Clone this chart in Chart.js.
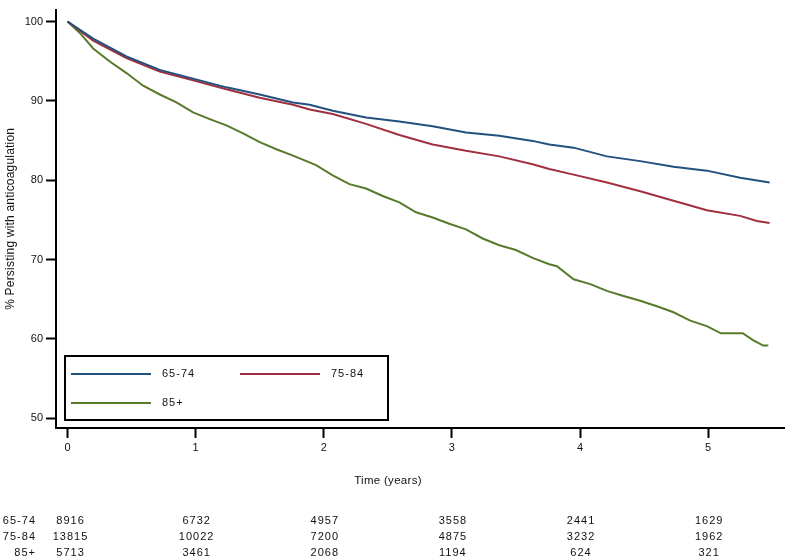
<!DOCTYPE html>
<html><head><meta charset="utf-8">
<script src="https://cdn.jsdelivr.net/npm/chart.js@4.4.1/dist/chart.umd.min.js"></script>
<style>html,body{margin:0;padding:0;background:#fff;}#wrap{width:785px;height:558px;position:relative;}</style>
</head><body><div id="wrap"><canvas id="c" width="785" height="558"></canvas></div>
<script>
// ---- data ----
const groups = ['65-74', '75-84', '85+'];
const t6574 = [0, 0.2, 0.46, 0.72, 0.98, 1.24, 1.5, 1.76, 1.89, 2.07, 2.33, 2.59, 2.85, 3.11, 3.37, 3.63, 3.76, 3.95, 4.21, 4.47, 4.73, 4.99, 5.25, 5.48];
const v6574 = [100, 97.85, 95.6, 93.9, 92.8, 91.7, 90.8, 89.8, 89.5, 88.75, 87.9, 87.4, 86.8, 86.0, 85.6, 84.95, 84.5, 84.1, 83.0, 82.4, 81.7, 81.2, 80.3, 79.7];
const t7584 = [0, 0.2, 0.46, 0.72, 0.98, 1.24, 1.5, 1.76, 1.89, 2.07, 2.33, 2.59, 2.85, 3.11, 3.37, 3.63, 3.76, 3.95, 4.21, 4.47, 4.73, 4.99, 5.25, 5.38, 5.48];
const v7584 = [100, 97.6, 95.4, 93.7, 92.6, 91.45, 90.4, 89.5, 88.9, 88.35, 87.1, 85.7, 84.5, 83.7, 83.0, 82.0, 81.4, 80.7, 79.7, 78.6, 77.4, 76.2, 75.5, 74.85, 74.6];
const t85 = [0, 0.1, 0.2, 0.33, 0.46, 0.59, 0.72, 0.85, 0.98, 1.11, 1.24, 1.37, 1.5, 1.63, 1.76, 1.94, 2.07, 2.2, 2.33, 2.46, 2.59, 2.72, 2.85, 2.98, 3.11, 3.24, 3.37, 3.5, 3.63, 3.76, 3.82, 3.95, 4.08, 4.21, 4.34, 4.47, 4.6, 4.73, 4.86, 4.99, 5.1, 5.27, 5.35, 5.43, 5.47];
const v85 = [100, 98.5, 96.6, 94.95, 93.5, 91.9, 90.8, 89.8, 88.55, 87.7, 86.9, 85.9, 84.8, 83.9, 83.1, 81.9, 80.6, 79.5, 78.95, 78.0, 77.2, 75.95, 75.3, 74.5, 73.8, 72.65, 71.8, 71.2, 70.2, 69.4, 69.15, 67.5, 66.9, 66.05, 65.4, 64.8, 64.1, 63.35, 62.3, 61.6, 60.7, 60.7, 59.85, 59.15, 59.15];
const xTicks = [0, 1, 2, 3, 4, 5];
const yTicks = [50, 60, 70, 80, 90, 100];
const riskTimes = [0, 1, 2, 3, 4, 5];
const risk6574 = [8916, 6732, 4957, 3558, 2441, 1629];
const risk7584 = [13815, 10022, 7200, 4875, 3232, 1962];
const risk85 = [5713, 3461, 2068, 1194, 624, 321];
const yTitle = '% Persisting with anticoagulation';
const xTitle = 'Time (years)';

// ---- styling ----
const colors = ['#22517f', '#a0303f', '#587a2b'];
const FONT = '"Liberation Sans", Arial, sans-serif';
const toXY = (ts, vs) => ts.map((t, i) => ({x: t, y: vs[i]}));
const series = [toXY(t6574, v6574), toXY(t7584, v7584), toXY(t85, v85)];
const risks = [risk6574, risk7584, risk85];

const extras = {
  id: 'extras',
  afterDraw(chart) {
    const ctx = chart.ctx, ca = chart.chartArea, xs = chart.scales.x;
    ctx.save();
    ctx.fillStyle = '#111';
    // y title
    ctx.save();
    ctx.font = '12px ' + FONT;
    ctx.letterSpacing = '0.2px';
    ctx.translate(11, (ca.top + ca.bottom) / 2);
    ctx.rotate(-Math.PI / 2);
    ctx.textAlign = 'center'; ctx.textBaseline = 'middle';
    ctx.fillText(yTitle, 0, 0);
    ctx.restore();
    // x title
    ctx.font = '11.5px ' + FONT;
    ctx.letterSpacing = '0.3px';
    ctx.textAlign = 'center'; ctx.textBaseline = 'middle';
    ctx.fillText(xTitle, 388, 481);
    // legend box
    ctx.font = '11px ' + FONT;
    ctx.letterSpacing = '1px';
    const lx = 65, ly = 356, lw = 323, lh = 64;
    ctx.strokeStyle = '#000'; ctx.lineWidth = 2;
    ctx.strokeRect(lx, ly, lw, lh);
    const entries = [[71, 374], [240, 374], [71, 403]];
    entries.forEach((p, i) => {
      ctx.strokeStyle = colors[i]; ctx.lineWidth = 2;
      ctx.beginPath(); ctx.moveTo(p[0], p[1]); ctx.lineTo(p[0] + 80, p[1]); ctx.stroke();
      ctx.fillStyle = '#111'; ctx.textAlign = 'left';
      ctx.fillText(groups[i], p[0] + 91, p[1]);
    });
    // number at risk table
    const rowY = [521, 537, 553];
    risks.forEach((row, r) => {
      ctx.textAlign = 'right';
      ctx.fillText(groups[r], 36, rowY[r]);
      ctx.textAlign = 'center';
      row.forEach((n, c) => {
        const px = xs.getPixelForValue(riskTimes[c]) + (c === 0 ? 3 : 1);
        ctx.fillText(String(n), px, rowY[r]);
      });
    });
    ctx.restore();
  }
};

const tickOpts = {color: '#111', font: {family: FONT, size: 11}, autoSkip: false, maxRotation: 0};
new Chart(document.getElementById('c'), {
  type: 'scatter',
  data: {
    datasets: series.map((d, i) => ({
      label: groups[i], data: d, showLine: true, borderColor: colors[i], backgroundColor: colors[i],
      borderWidth: 2, pointRadius: 0, tension: 0, fill: false
    }))
  },
  options: {
    responsive: false, animation: false, devicePixelRatio: 1,
    layout: {padding: {left: 0, top: 2, right: 0, bottom: 0}},
    plugins: {legend: {display: false}, tooltip: {enabled: false}},
    scales: {
      x: {
        type: 'linear', min: -0.09, max: 5.6,
        afterBuildTicks: s => { s.ticks = xTicks.map(v => ({value: v})); },
        afterFit: s => { s.height = 130; },
        grid: {drawOnChartArea: false, drawTicks: true, tickLength: 10, tickWidth: 2, tickColor: '#000'},
        border: {display: true, color: '#000', width: 2},
        ticks: Object.assign({padding: 3}, tickOpts)
      },
      y: {
        type: 'linear', min: 48.76, max: 101.5,
        afterBuildTicks: s => { s.ticks = yTicks.map(v => ({value: v})); },
        afterFit: s => { s.width = 56; },
        grid: {drawOnChartArea: false, drawTicks: true, tickLength: 10, tickWidth: 2, tickColor: '#000'},
        border: {display: true, color: '#000', width: 2},
        ticks: Object.assign({padding: 3}, tickOpts)
      }
    }
  },
  plugins: [extras]
});
</script></body></html>
